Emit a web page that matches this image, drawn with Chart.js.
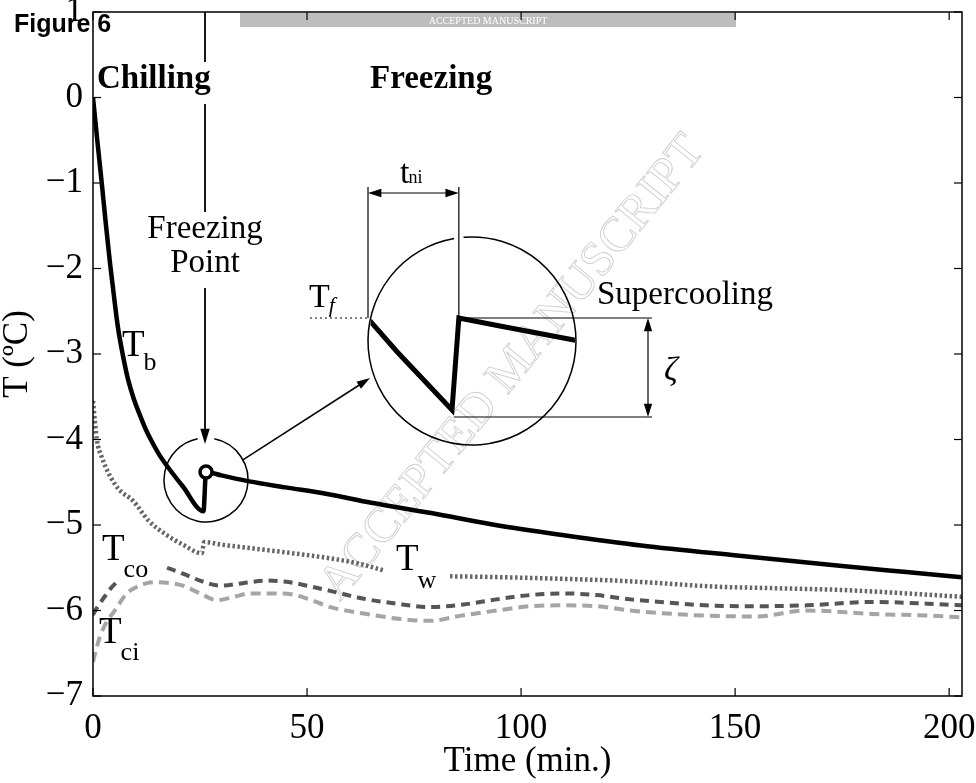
<!DOCTYPE html>
<html lang="en">
<head>
<meta charset="UTF-8" />
<title>Figure 6</title>
<script src="https://cdn.jsdelivr.net/npm/chart.js"></script>
<style>
  html, body { margin: 0; padding: 0; background: #fff; }
  #wrap { width: 976px; height: 783px; }
</style>
</head>
<body>
<div id="wrap"><canvas id="fig" width="976" height="783"></canvas></div>
<script>
const SERIF = '"Liberation Serif", "Times New Roman", serif';

const xTicks = [0, 50, 100, 150, 200];
const yTicks = [-7, -6, -5, -4, -3, -2, -1, 0, 1];

// bulk temperature T_b
const tbTime = [0, 1, 2, 3, 4, 4.6, 5.8, 7, 8.2, 9.5, 11, 12.5, 13.8, 15.5, 17.3, 21, 25.8, 26.4, 30, 36.5, 45, 55, 65, 79, 94, 110, 128, 151, 175, 190, 203];
const tbTemp = [0, -0.5, -0.98, -1.48, -1.95, -2.2, -2.68, -3.02, -3.3, -3.52, -3.72, -3.9, -4.03, -4.18, -4.31, -4.55, -4.84, -4.38, -4.42, -4.49, -4.56, -4.64, -4.74, -4.86, -5.0, -5.12, -5.24, -5.36, -5.48, -5.55, -5.61];

// wall temperature T_w (gap where the label sits)
const twTime = [0, 0.9, 2, 4, 6, 9.4, 13, 17.3, 21, 25.4, 26, 30, 35, 45, 55.4, 62, 67.8, 75, 83.4, 95, 110, 122, 132.5, 145, 160, 175, 190, 203];
const twTemp = [-3.55, -4.0, -4.2, -4.43, -4.58, -4.72, -4.95, -5.12, -5.23, -5.33, -5.2, -5.23, -5.26, -5.32, -5.39, -5.45, -5.53, null, -5.6, -5.61, -5.63, -5.65, -5.68, -5.72, -5.74, -5.76, -5.8, -5.84];

// coolant outlet T_co
const tcoTime = [0, 0.9, 2.4, 4, 6.3, 10, 17.3, 21, 25, 29.7, 35, 40.6, 46, 50, 55.4, 63, 70.9, 78.7, 86.5, 94.3, 102, 110, 117.7, 125.5, 132.5, 143, 155, 166.6, 182, 195, 203];
const tcoTemp = [-6.05, -5.97, -5.86, -5.75, -5.63, null, -5.5, -5.57, -5.65, -5.71, -5.68, -5.65, -5.67, -5.71, -5.77, -5.86, -5.92, -5.96, -5.93, -5.87, -5.82, -5.8, -5.82, -5.87, -5.9, -5.94, -5.95, -5.94, -5.9, -5.92, -5.94];

// coolant inlet T_ci
const tciTime = [0, 0.5, 1.6, 3, 5.1, 7.9, 10, 12.6, 15, 18, 21, 25, 28.9, 33, 36.7, 44.5, 50, 55.4, 65, 72, 78.7, 86, 94.3, 102, 110, 117.7, 125.5, 132.5, 143, 155, 166.6, 182, 195, 203];
const tciTemp = [-6.6, -6.5, -6.31, -6.15, -6.0, -5.8, -5.73, -5.68, -5.67, -5.68, -5.71, -5.8, -5.88, -5.84, -5.8, -5.8, -5.86, -5.96, -6.05, -6.1, -6.12, -6.06, -6.0, -5.95, -5.94, -5.95, -6.0, -6.03, -6.06, -6.07, -6.0, -6.04, -6.06, -6.08];

// freezing point (end of supercooling)
const fpTime = [26.4];
const fpTemp = [-4.38];

const pts = (xs, ys) => xs.map((x, i) => ({ x: x, y: ys[i] }));
const minus = v => (v < 0 ? '\u2212' + Math.abs(v) : String(v));

function arrowHead(ctx, x1, y1, x2, y2, size) {
  const a = Math.atan2(y2 - y1, x2 - x1);
  ctx.beginPath();
  ctx.moveTo(x2, y2);
  ctx.lineTo(x2 - size * Math.cos(a - 0.3), y2 - size * Math.sin(a - 0.3));
  ctx.lineTo(x2 - size * Math.cos(a + 0.3), y2 - size * Math.sin(a + 0.3));
  ctx.closePath();
  ctx.fill();
}

function line(ctx, x1, y1, x2, y2) {
  ctx.beginPath();
  ctx.moveTo(x1, y1);
  ctx.lineTo(x2, y2);
  ctx.stroke();
}

function subLabel(ctx, x, y, main, sub, size, subSize, dy, italic) {
  ctx.font = size + 'px ' + SERIF;
  ctx.fillText(main, x, y);
  const w = ctx.measureText(main).width;
  ctx.font = (italic ? 'italic ' : '') + subSize + 'px ' + SERIF;
  ctx.fillText(sub, x + w - 1, y + dy);
}

const decor = {
  id: 'decor',
  beforeDatasetsDraw(chart) {
    const ctx = chart.ctx;
    // diagonal watermark
    ctx.save();
    ctx.translate(513, 368);
    ctx.rotate(-51 * Math.PI / 180);
    ctx.font = '49px ' + SERIF;
    ctx.textAlign = 'center';
    ctx.textBaseline = 'middle';
    ctx.strokeStyle = '#cdcdcd';
    ctx.lineWidth = 0.9;
    ctx.strokeText('ACCEPTED MANUSCRIPT', 0, 0);
    ctx.restore();
  },
  afterDatasetsDraw(chart) {
    const ctx = chart.ctx;
    const xs = chart.scales.x, ys = chart.scales.y;
    const a = chart.chartArea;

    ctx.save();
    // header strip
    ctx.fillStyle = '#bdbdbd';
    ctx.fillRect(240, 13, 496, 14);
    ctx.fillStyle = '#fff';
    ctx.font = '10px ' + SERIF;
    ctx.textAlign = 'center';
    ctx.textBaseline = 'middle';
    ctx.fillText('ACCEPTED MANUSCRIPT', 488, 21);

    // axes box with inward ticks
    ctx.strokeStyle = '#000';
    ctx.lineWidth = 1.5;
    ctx.strokeRect(a.left, a.top, a.right - a.left, a.bottom - a.top);
    ctx.lineWidth = 1.2;
    xs.ticks.forEach(t => {
      const px = xs.getPixelForValue(t.value);
      line(ctx, px, a.bottom, px, a.bottom - 8);
      line(ctx, px, a.top, px, a.top + 8);
    });
    ys.ticks.forEach(t => {
      const py = ys.getPixelForValue(t.value);
      line(ctx, a.left, py, a.left + 8, py);
      line(ctx, a.right, py, a.right - 8, py);
    });

    ctx.fillStyle = '#000';
    ctx.textAlign = 'left';
    ctx.textBaseline = 'alphabetic';

    // phase labels
    ctx.font = 'bold 33px ' + SERIF;
    ctx.fillText('Chilling', 97, 88);
    ctx.fillText('Freezing', 370, 88);

    // freezing point callout
    const mx = xs.getPixelForValue(fpTime[0]);
    const my = ys.getPixelForValue(fpTemp[0]);
    const lx = mx - 1;
    ctx.lineWidth = 1.8;
    line(ctx, lx, a.top, lx, 62);
    line(ctx, lx, 104, lx, 212);
    ctx.font = '33px ' + SERIF;
    ctx.textAlign = 'center';
    ctx.fillText('Freezing', lx, 238);
    ctx.fillText('Point', lx, 272);
    ctx.textAlign = 'left';
    line(ctx, lx, 288, lx, 432);
    arrowHead(ctx, lx, 288, lx, 444, 16);

    // small ring round the freezing point
    const sc = { x: mx, y: my + 8, r: 42 };
    ctx.lineWidth = 1.5;
    ctx.beginPath();
    ctx.arc(sc.x, sc.y, sc.r, -Math.PI / 2 + 0.2, 1.5 * Math.PI - 0.2);
    ctx.stroke();

    // magnified T_b around the supercooling dip
    const big = { x: 472, y: 341, r: 104 };
    const iMin = tbTemp.indexOf(Math.min(...tbTemp.slice(0, 20)));
    const t0 = tbTime[iMin], T0 = tbTemp[iMin];
    const ix = t => 452 + (t - t0) * 11.4;
    const iy = T => 410 - (T - T0) * 200;
    const xL = 368, xR = ix(tbTime[iMin + 1]);

    // inset ring, broken where the t_ni marker crosses it
    const gapMid = Math.atan2(-Math.sqrt(big.r * big.r - (xR - big.x) ** 2), xR - big.x);
    ctx.beginPath();
    ctx.arc(big.x, big.y, big.r, gapMid + 0.045, gapMid - 0.045 + 2 * Math.PI);
    ctx.stroke();

    // pointer from small ring to inset
    const ang = -0.5;
    const sx0 = sc.x + sc.r * Math.cos(ang), sy0 = sc.y + sc.r * Math.sin(ang);
    const ex = 370, ey = 378;
    line(ctx, sx0, sy0, ex - 6, ey + 4);
    arrowHead(ctx, sx0, sy0, ex, ey, 14);

    ctx.save();
    ctx.beginPath();
    ctx.arc(big.x, big.y, big.r - 1, 0, 2 * Math.PI);
    ctx.clip();
    ctx.lineWidth = 5;
    ctx.beginPath();
    let started = false;
    tbTime.forEach((t, i) => {
      if (t < 12 || t > 45) return;
      const px = ix(t), py = iy(tbTemp[i]);
      if (!started) { ctx.moveTo(px, py); started = true; } else ctx.lineTo(px, py);
    });
    ctx.stroke();
    ctx.restore();

    const Tf = fpTemp[0];
    const yTf = iy(Tf), yMin = iy(T0) + 7;
    ctx.lineWidth = 1.2;
    // T_f reference (dotted)
    ctx.setLineDash([2, 3]);
    line(ctx, 310, yTf, xL, yTf);
    ctx.setLineDash([]);
    // t_ni span
    line(ctx, xL, 187, xL, yTf);
    line(ctx, xR, 187, xR, yTf);
    line(ctx, xL + 10, 193, xR - 10, 193);
    arrowHead(ctx, xR, 193, xL, 193, 14);
    arrowHead(ctx, xL, 193, xR, 193, 14);
    // supercooling depth
    line(ctx, xR, yTf, 652, yTf);
    line(ctx, xR - 5, yMin, 652, yMin);
    line(ctx, 648, yTf + 10, 648, yMin - 10);
    arrowHead(ctx, 648, yMin, 648, yTf, 14);
    arrowHead(ctx, 648, yTf, 648, yMin, 14);

    subLabel(ctx, 400, 183, 't', 'ni', 34, 18, 0, false);
    subLabel(ctx, 309, 307, 'T', 'f', 34, 22, 5, true);
    ctx.font = '33px ' + SERIF;
    ctx.fillText('Supercooling', 597, 304);
    ctx.font = 'italic 34px ' + SERIF;
    ctx.fillText('\u03B6', 664, 380);

    // series labels
    subLabel(ctx, 122, 356, 'T', 'b', 37, 26, 14, false);
    subLabel(ctx, 102, 560, 'T', 'co', 37, 26, 17, false);
    subLabel(ctx, 99, 643, 'T', 'ci', 37, 26, 17, false);
    subLabel(ctx, 396, 570, 'T', 'w', 37, 26, 18, false);
    ctx.restore();
  },
  afterDraw(chart) {
    const ctx = chart.ctx;
    ctx.save();
    ctx.fillStyle = '#000';
    ctx.font = 'bold 25px "Liberation Sans", Arial, sans-serif';
    ctx.fillText('Figure 6', 14, 32);
    ctx.restore();
  }
};

new Chart(document.getElementById('fig'), {
  type: 'line',
  data: {
    datasets: [
      {
        label: 'Freezing point', data: pts(fpTime, fpTemp), showLine: false,
        pointRadius: 6, pointBorderWidth: 3.5, pointBorderColor: '#000', pointBackgroundColor: '#fff'
      },
      {
        label: 'Tb', data: pts(tbTime, tbTemp), borderColor: '#000', borderWidth: 4.5,
        pointRadius: 0, cubicInterpolationMode: 'monotone'
      },
      {
        label: 'Tw', data: pts(twTime, twTemp), borderColor: '#666', borderWidth: 4.5,
        borderDash: [2.5, 2.5], pointRadius: 0, cubicInterpolationMode: 'monotone', spanGaps: false
      },
      {
        label: 'Tco', data: pts(tcoTime, tcoTemp), borderColor: '#555', borderWidth: 4,
        borderDash: [9, 6], pointRadius: 0, cubicInterpolationMode: 'monotone', spanGaps: false
      },
      {
        label: 'Tci', data: pts(tciTime, tciTemp), borderColor: '#a5a5a5', borderWidth: 4,
        borderDash: [10, 6], pointRadius: 0, cubicInterpolationMode: 'monotone'
      }
    ]
  },
  options: {
    responsive: false,
    animation: false,
    layout: { padding: { top: 12, right: 14, left: 0, bottom: 0 } },
    plugins: { legend: { display: false }, tooltip: { enabled: false } },
    scales: {
      x: {
        type: 'linear', min: 0, max: 203,
        afterBuildTicks: s => { s.ticks = xTicks.map(v => ({ value: v })); },
        afterFit: s => { s.height = 87; s.paddingLeft = 0; s.paddingRight = 0; },
        grid: { display: false, drawTicks: false },
        border: { display: false },
        ticks: { color: '#000', padding: 12, maxRotation: 0, font: { family: SERIF, size: 35 }, callback: minus },
        title: { display: true, text: 'Time (min.)', color: '#000', padding: 0, font: { family: SERIF, size: 35, lineHeight: 1.2 } }
      },
      y: {
        min: -7, max: 1,
        afterBuildTicks: s => { s.ticks = yTicks.map(v => ({ value: v })); },
        afterFit: s => { s.width = 93; s.paddingTop = 0; s.paddingBottom = 0; },
        grid: { display: false, drawTicks: false },
        border: { display: false },
        ticks: { color: '#000', padding: 10, font: { family: SERIF, size: 35 }, callback: minus },
        title: { display: true, text: 'T (\u00BAC)', color: '#000', padding: 0, font: { family: SERIF, size: 35, lineHeight: 1 } }
      }
    }
  },
  plugins: [decor]
});
</script>
</body>
</html>
